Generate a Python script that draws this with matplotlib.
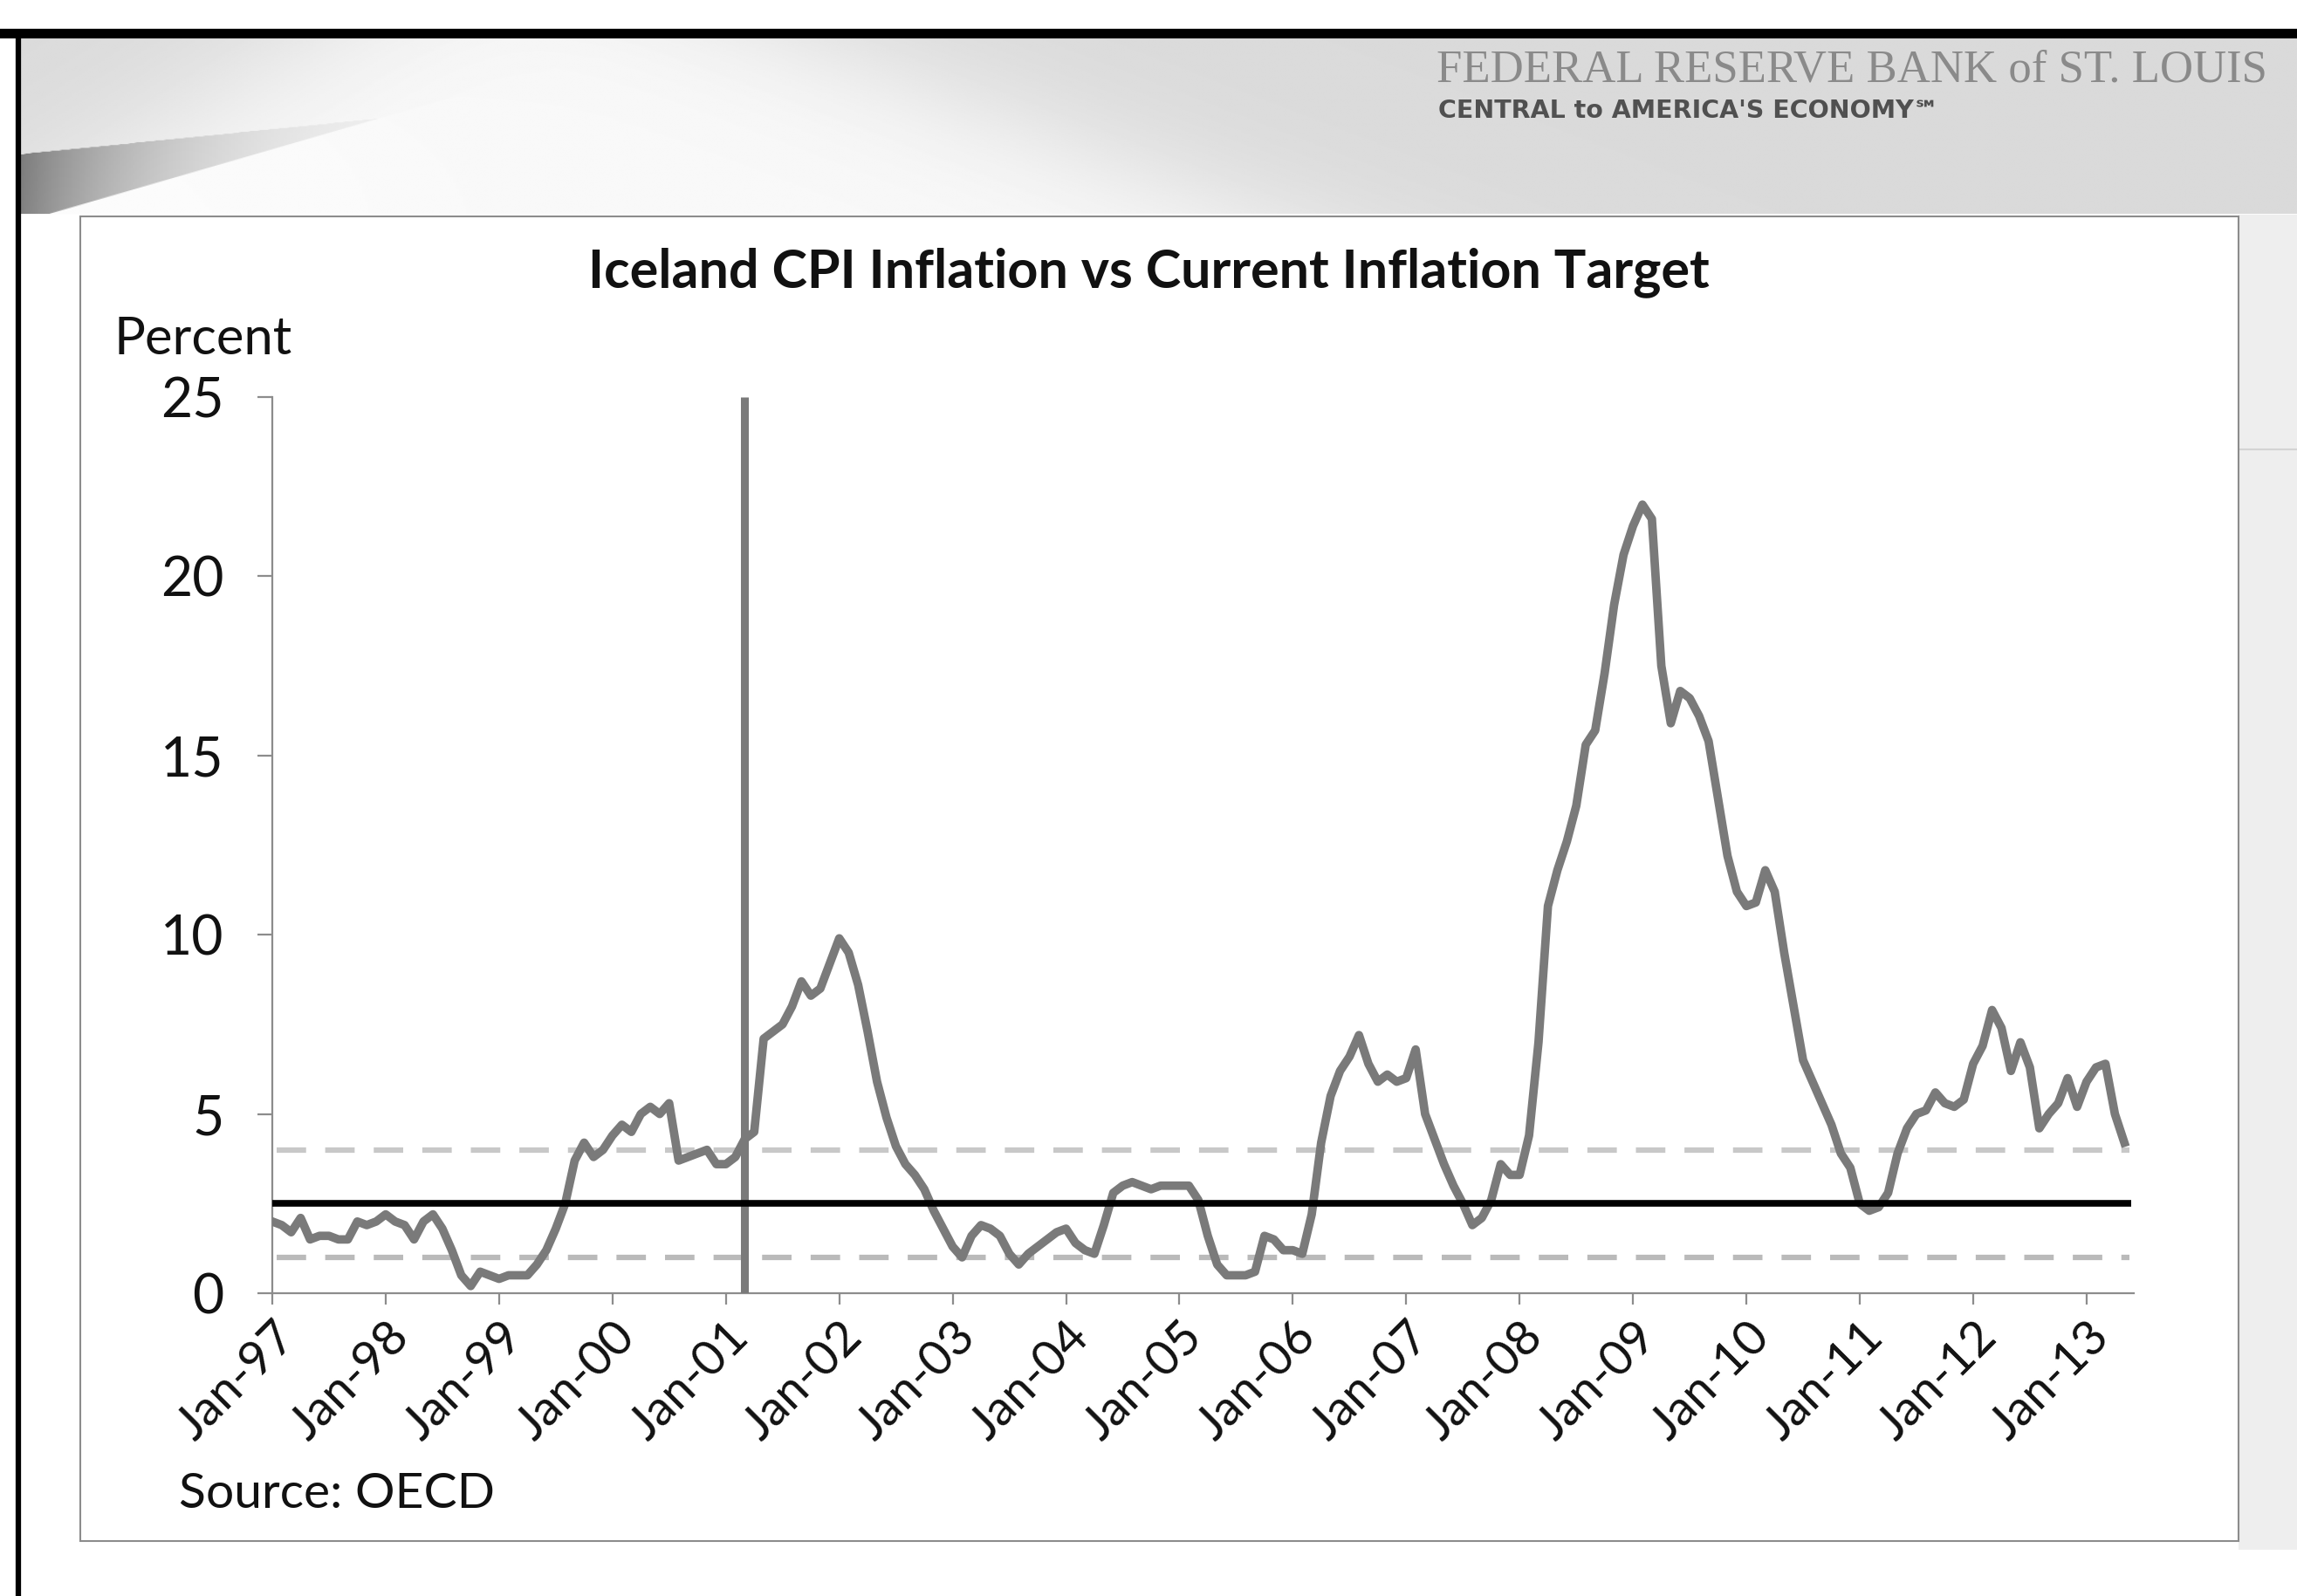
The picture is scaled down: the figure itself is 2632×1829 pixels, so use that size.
import matplotlib.pyplot as plt
import numpy as np
from matplotlib.patches import Rectangle

# Iceland CPI inflation, percent y/y, monthly from Jan-1997 to May-2013
cpi_1997 = [2.0, 1.9, 1.7, 2.1, 1.5, 1.6, 1.6, 1.5, 1.5, 2.0, 1.9, 2.0]
cpi_1998 = [2.2, 2.0, 1.9, 1.5, 2.0, 2.2, 1.8, 1.2, 0.5, 0.2, 0.6, 0.5]
cpi_1999 = [0.4, 0.5, 0.5, 0.5, 0.8, 1.2, 1.8, 2.5, 3.7, 4.2, 3.8, 4.0]
cpi_2000 = [4.4, 4.7, 4.5, 5.0, 5.2, 5.0, 5.3, 3.7, 3.8, 3.9, 4.0, 3.6]
cpi_2001 = [3.6, 3.8, 4.3, 4.5, 7.1, 7.3, 7.5, 8.0, 8.7, 8.3, 8.5, 9.2]
cpi_2002 = [9.9, 9.5, 8.6, 7.3, 5.9, 4.9, 4.1, 3.6, 3.3, 2.9, 2.3, 1.8]
cpi_2003 = [1.3, 1.0, 1.6, 1.9, 1.8, 1.6, 1.1, 0.8, 1.1, 1.3, 1.5, 1.7]
cpi_2004 = [1.8, 1.4, 1.2, 1.1, 1.9, 2.8, 3.0, 3.1, 3.0, 2.9, 3.0, 3.0]
cpi_2005 = [3.0, 3.0, 2.6, 1.6, 0.8, 0.5, 0.5, 0.5, 0.6, 1.6, 1.5, 1.2]
cpi_2006 = [1.2, 1.1, 2.2, 4.2, 5.5, 6.2, 6.6, 7.2, 6.4, 5.9, 6.1, 5.9]
cpi_2007 = [6.0, 6.8, 5.0, 4.3, 3.6, 3.0, 2.5, 1.9, 2.1, 2.6, 3.6, 3.3]
cpi_2008 = [3.3, 4.4, 7.0, 10.8, 11.8, 12.6, 13.6, 15.3, 15.7, 17.3, 19.2, 20.6]
cpi_2009 = [21.4, 22.0, 21.6, 17.5, 15.9, 16.8, 16.6, 16.1, 15.4, 13.8, 12.2, 11.2]
cpi_2010 = [10.8, 10.9, 11.8, 11.2, 9.5, 8.0, 6.5, 5.9, 5.3, 4.7, 3.9, 3.5]
cpi_2011 = [2.5, 2.3, 2.4, 2.8, 3.9, 4.6, 5.0, 5.1, 5.6, 5.3, 5.2, 5.4]
cpi_2012 = [6.4, 6.9, 7.9, 7.4, 6.2, 7.0, 6.3, 4.6, 5.0, 5.3, 6.0, 5.2]
cpi_2013 = [5.9, 6.3, 6.4, 5.0, 4.2]

cpi = np.array(cpi_1997 + cpi_1998 + cpi_1999 + cpi_2000 + cpi_2001 + cpi_2002
               + cpi_2003 + cpi_2004 + cpi_2005 + cpi_2006 + cpi_2007 + cpi_2008
               + cpi_2009 + cpi_2010 + cpi_2011 + cpi_2012 + cpi_2013)
months = np.arange(len(cpi))

target = 2.5
band_low = 1.0
band_high = 4.0
target_adopted = 50  # March 2001

year_ticks = np.arange(0, 193, 12)
year_labels = ["Jan-97", "Jan-98", "Jan-99", "Jan-00", "Jan-01", "Jan-02",
               "Jan-03", "Jan-04", "Jan-05", "Jan-06", "Jan-07", "Jan-08",
               "Jan-09", "Jan-10", "Jan-11", "Jan-12", "Jan-13"]
y_ticks = [0, 5, 10, 15, 20, 25]

W, H = 2632, 1829
fig = plt.figure(figsize=(W / 100, H / 100), dpi=100)
fig.patch.set_facecolor("white")

# slide background drawn in pixel coordinates
bg = fig.add_axes([0, 0, 1, 1], zorder=0)
bg.set_xlim(0, W)
bg.set_ylim(H, 0)
bg.axis("off")


def sigmoid(v):
    return 1 / (1 + np.exp(-v))


# grey header band with a light diagonal sweep and a dark swoosh on the left
xs = np.linspace(21, W, 700)
ys = np.linspace(42, 258, 200)
X, Y = np.meshgrid(xs, ys)
x_right = 924 + 2.6 * (Y - 50)
x_left = 340 - 1.6 * (Y - 50)
w = sigmoid((x_right - X) / 110) * sigmoid((X - x_left) / 90)
shade = 0.855 + (0.975 - 0.855) * w
y_up = 177 - 0.10 * (X - 21)
y_low = 255 - 0.29 * (X - 21)
in_swoosh = (Y >= y_up) & (Y <= y_low)
shade = np.where(in_swoosh, shade * (1 - 0.45 * np.exp(-(X - 21) / 160)), shade)
below_w = (Y > y_low) * sigmoid((450 - X) / 60)
shade = shade + (0.985 - shade) * below_w
shade = np.where(Y > 245, 1.0, shade)
bg.imshow(shade, cmap="gray", vmin=0, vmax=1, extent=(21, W, 258, 42),
          aspect="auto", interpolation="bilinear", zorder=1)

bg.add_patch(Rectangle((2565, 246), W - 2565, 1530, facecolor="#eeeeee",
                       edgecolor="none", zorder=1))
bg.plot([2565, W], [515, 515], color="#d4d4d4", lw=1.5, zorder=2)

# black slide frame
bg.plot([0, W], [38, 38], color="black", lw=8, zorder=3)
bg.plot([21, 21], [38, H], color="black", lw=4.5, zorder=3)

# chart box
bg.add_patch(Rectangle((92, 248), 2473, 1518, facecolor="white",
                       edgecolor="#8c8c8c", lw=1.5, zorder=2))

fig.text(2598 / W, 1 - 80 / H, "FEDERAL RESERVE BANK of ST. LOUIS",
         ha="right", va="center", family="Liberation Serif", fontsize=38,
         color="#8a8a8a")
fig.text(1648 / W, 1 - 127 / H, "CENTRAL to AMERICA'S ECONOMY\u2120",
         ha="left", va="center", family="DejaVu Sans", fontsize=20.5,
         fontweight="bold", color="#505050")

# chart
ax = fig.add_axes([312 / W, 1 - 1482 / H, 2133 / W, 1027 / H], zorder=2)
ax.set_facecolor("none")

ax.hlines(band_high, 0.5, len(cpi) - 0.5, colors="#c8c8c8",
          linestyles=(0, (5.4, 3.5)), lw=4.5, zorder=2)
ax.hlines(band_low, 0.5, len(cpi) - 0.5, colors="#bababa",
          linestyles=(0, (5.4, 3.5)), lw=4.5, zorder=2)
ax.plot(months, cpi, color="#7a7a7a", lw=7, solid_joinstyle="round", zorder=3)
ax.vlines(target_adopted, 0, 25, colors="#7a7a7a", lw=6.5, zorder=3)
ax.hlines(target, 0, len(cpi) - 0.3, colors="black", lw=5.5, zorder=4)

ax.set_xlim(0, 197)
ax.set_ylim(0, 25)
ax.set_yticks(y_ticks)
ax.set_xticks(year_ticks)
ax.set_xticklabels(year_labels, rotation=45, ha="right", va="top",
                   rotation_mode="anchor")

for side in ["top", "right"]:
    ax.spines[side].set_visible(False)
for side in ["left", "bottom"]:
    ax.spines[side].set_color("#8c8c8c")
    ax.spines[side].set_linewidth(1.6)

ax.tick_params(axis="y", direction="out", length=12, width=1.6, color="#8c8c8c",
               pad=28, labelsize=45, labelcolor="#111111")
ax.tick_params(axis="x", direction="out", length=9, width=1.6, color="#8c8c8c",
               pad=8, labelsize=40, labelcolor="#111111")
for lab in ax.get_xticklabels() + ax.get_yticklabels():
    lab.set_family("Lato")

fig.text(0.5, 1 - 312 / H, "Iceland CPI Inflation vs Current Inflation Target",
         ha="center", va="center", family="Lato", fontweight="bold",
         fontsize=44, color="#111111")
fig.text(131 / W, 1 - 389 / H, "Percent", ha="left", va="center",
         family="Lato", fontsize=43, color="#111111")
fig.text(205 / W, 1 - 1712 / H, "Source: OECD", ha="left", va="center",
         family="Lato", fontsize=41, color="#111111")

fig.savefig("out.png", dpi=100)
